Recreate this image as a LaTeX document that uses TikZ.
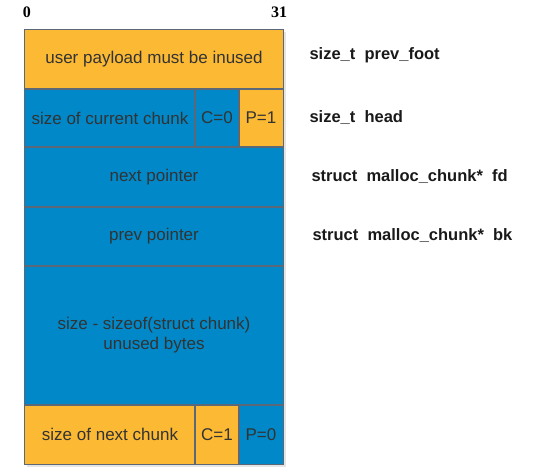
\documentclass[tikz,border=0pt]{standalone}
\usepackage{fontspec}
\setmainfont{Liberation Sans}
\newfontfamily\numfont{Liberation Serif}
\usepackage{tikz}
\usetikzlibrary{positioning}
\definecolor{chunkorange}{HTML}{FBB934}
\definecolor{chunkblue}{HTML}{0088C8}
\definecolor{chunkline}{HTML}{5A6878}
\definecolor{chunktext}{HTML}{333333}

\begin{document}
\begin{tikzpicture}[x=1pt,y=-1pt,
				cell/.style={inner sep=0pt, text=chunktext, font=\fontsize{17}{20}\selectfont, align=center},
				used/.style={cell, fill=chunkorange},
				free/.style={cell, fill=chunkblue},
				field/.style={anchor=west, font=\bfseries\fontsize{16.5}{18}\selectfont, text=black!90},
				bit/.style={font=\numfont\bfseries\fontsize{16}{18}\selectfont}]
				\useasboundingbox (0,0) rectangle (554,468);
				% shadow
				\fill[black!10] (27,32) rectangle (286,467);
				% bit numbers
				\node[bit] (lo) at (27,12)  {0};
				\node[bit] (hi) at (279,12) {31};
				% chunk rows
				\node[used, minimum width=258, minimum height=59]  (prevfoot) at (154,59.5)  {user payload must be inused};
				\node[free, minimum width=170, minimum height=58]  (head)     at (110,118)   {size of current chunk};
				\node[free, minimum width=44,  minimum height=58]  (cbit)     at (217,118)   {C=0};
				\node[used, minimum width=44,  minimum height=58]  (pbit)     at (261,118)   {P=1};
				\node[free, minimum width=258, minimum height=60]  (fd)       at (154,177)   {next pointer};
				\node[free, minimum width=258, minimum height=59]  (bk)       at (154,236.5) {prev pointer};
				\node[free, minimum width=258, minimum height=139] (unused)   at (154,335.5) {size - sizeof(struct chunk)\\unused bytes};
				\node[used, minimum width=170, minimum height=59]  (nexthead) at (110,434.5) {size of next chunk};
				\node[used, minimum width=44,  minimum height=59]  (ncbit)    at (217,434.5) {C=1};
				\node[free, minimum width=44,  minimum height=59]  (npbit)    at (261,434.5) {P=0};
				% cell borders on top of the fills
				\foreach \c in {prevfoot,head,cbit,pbit,fd,bk,unused,nexthead,ncbit,npbit}
					\draw[chunkline, line width=1pt] (\c.north west) rectangle (\c.south east);
				% field names
				\node[field] (lprevfoot) at (306,55)  {size\_t\ \ prev\_foot};
				\node[field] (lhead)     at (306,118) {size\_t\ \ head};
				\node[field] (lfd)       at (308,177) {struct\ \ malloc\_chunk*\ \ fd};
				\node[field] (lbk)       at (309,236) {struct\ \ malloc\_chunk*\ \ bk};
			\end{tikzpicture}
\end{document}
